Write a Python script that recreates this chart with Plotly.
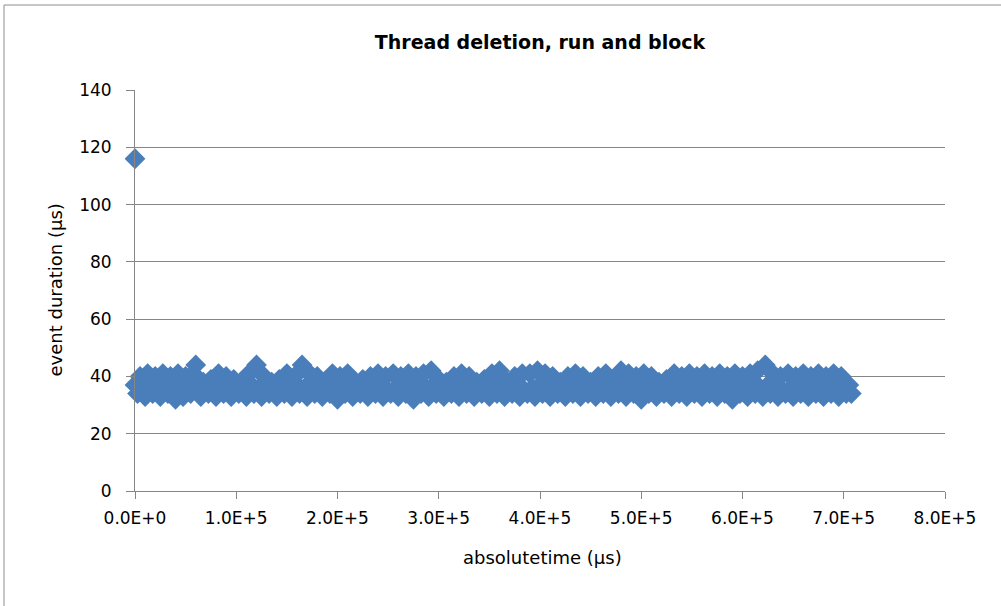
import plotly.graph_objects as go

# outlier event at the very start of the trace
outlier_time = [0]
outlier_duration = [116]

# absolute time of each event (us)
event_time = [
    0, 2500, 5000, 7500, 10000, 12500, 15000, 17500, 20000, 22500,
    25000, 27500, 30000, 32500, 35000, 37500, 40000, 42500, 45000, 47500,
    50000, 52500, 55000, 57500, 60000, 62500, 65000, 67500, 70000, 72500,
    75000, 77500, 80000, 82500, 85000, 87500, 90000, 92500, 95000, 97500,
    100000, 102500, 105000, 107500, 110000, 112500, 115000, 117500, 120000, 122500,
    125000, 127500, 130000, 132500, 135000, 137500, 140000, 142500, 145000, 147500,
    150000, 152500, 155000, 157500, 160000, 162500, 165000, 167500, 170000, 172500,
    175000, 177500, 180000, 182500, 185000, 187500, 190000, 192500, 195000, 197500,
    200000, 202500, 205000, 207500, 210000, 212500, 215000, 217500, 220000, 222500,
    225000, 227500, 230000, 232500, 235000, 237500, 240000, 242500, 245000, 247500,
    250000, 252500, 255000, 257500, 260000, 262500, 265000, 267500, 270000, 272500,
    275000, 277500, 280000, 282500, 285000, 287500, 290000, 292500, 295000, 297500,
    300000, 302500, 305000, 307500, 310000, 312500, 315000, 317500, 320000, 322500,
    325000, 327500, 330000, 332500, 335000, 337500, 340000, 342500, 345000, 347500,
    350000, 352500, 355000, 357500, 360000, 362500, 365000, 367500, 370000, 372500,
    375000, 377500, 380000, 382500, 385000, 387500, 390000, 392500, 395000, 397500,
    400000, 402500, 405000, 407500, 410000, 412500, 415000, 417500, 420000, 422500,
    425000, 427500, 430000, 432500, 435000, 437500, 440000, 442500, 445000, 447500,
    450000, 452500, 455000, 457500, 460000, 462500, 465000, 467500, 470000, 472500,
    475000, 477500, 480000, 482500, 485000, 487500, 490000, 492500, 495000, 497500,
    500000, 502500, 505000, 507500, 510000, 512500, 515000, 517500, 520000, 522500,
    525000, 527500, 530000, 532500, 535000, 537500, 540000, 542500, 545000, 547500,
    550000, 552500, 555000, 557500, 560000, 562500, 565000, 567500, 570000, 572500,
    575000, 577500, 580000, 582500, 585000, 587500, 590000, 592500, 595000, 597500,
    600000, 602500, 605000, 607500, 610000, 612500, 615000, 617500, 620000, 622500,
    625000, 627500, 630000, 632500, 635000, 637500, 640000, 642500, 645000, 647500,
    650000, 652500, 655000, 657500, 660000, 662500, 665000, 667500, 670000, 672500,
    675000, 677500, 680000, 682500, 685000, 687500, 690000, 692500, 695000, 697500,
    700000, 702500, 705000, 707500,
]

# event duration (us)
event_duration = [
    37, 34, 40, 36, 33, 41, 37, 34, 40, 36, 33, 41,
    37, 34, 40, 35, 32, 41, 37, 33, 40, 36, 34, 41,
    44, 36, 33, 38, 37, 34, 39, 36, 33, 41, 35, 34,
    40, 36, 33, 39, 37, 34, 38, 36, 33, 41, 37, 34,
    44, 36, 33, 40, 35, 34, 38, 36, 33, 39, 37, 34,
    41, 36, 33, 40, 37, 34, 44, 36, 33, 41, 37, 34,
    40, 36, 33, 38, 37, 34, 41, 35, 32, 40, 37, 34,
    41, 36, 33, 38, 37, 34, 39, 36, 33, 40, 37, 34,
    41, 36, 33, 40, 35, 34, 41, 36, 33, 40, 37, 34,
    41, 36, 32, 40, 37, 34, 41, 36, 33, 42, 37, 34,
    39, 36, 33, 38, 37, 34, 40, 35, 33, 41, 37, 34,
    40, 36, 33, 38, 37, 34, 39, 36, 33, 41, 37, 34,
    42, 36, 33, 38, 37, 34, 40, 36, 33, 41, 35, 34,
    41, 36, 33, 42, 37, 34, 41, 36, 33, 40, 37, 34,
    38, 36, 33, 40, 37, 34, 41, 35, 33, 40, 37, 34,
    38, 36, 33, 40, 37, 34, 41, 36, 33, 38, 37, 34,
    42, 36, 33, 41, 37, 34, 40, 36, 32, 41, 35, 34,
    40, 36, 33, 38, 37, 34, 39, 36, 33, 41, 37, 34,
    40, 36, 33, 41, 37, 34, 40, 35, 33, 41, 37, 34,
    40, 36, 33, 41, 37, 34, 40, 36, 32, 41, 37, 34,
    40, 36, 33, 41, 37, 34, 42, 36, 33, 44, 37, 34,
    41, 36, 33, 40, 35, 34, 41, 36, 33, 40, 37, 34,
    41, 36, 33, 40, 37, 34, 41, 35, 33, 40, 37, 34,
    41, 36, 33, 40, 37, 34, 37, 34,
]

x_tickvals = [0, 100000, 200000, 300000, 400000, 500000, 600000, 700000, 800000]
x_ticktext = ["0.0E+0", "1.0E+5", "2.0E+5", "3.0E+5", "4.0E+5",
              "5.0E+5", "6.0E+5", "7.0E+5", "8.0E+5"]

FONT = "DejaVu Sans"
GRID = "#868686"

fig = go.Figure(go.Scatter(
    x=outlier_time + event_time,
    y=outlier_duration + event_duration,
    mode="markers",
    marker=dict(symbol="diamond", size=16, color="#4a7ebb", line=dict(width=0)),
    cliponaxis=False,
    showlegend=False,
))

fig.update_layout(
    width=1001, height=606,
    margin=dict(l=135, r=56, t=90, b=115),
    paper_bgcolor="white", plot_bgcolor="white",
    font=dict(family=FONT, size=17, color="black"),
    title=dict(text="<b>Thread deletion, run and block</b>",
               x=0.5, xref="paper", y=1 - 42 / 606, yanchor="middle",
               font=dict(family=FONT, size=19, color="black")),
    xaxis=dict(range=[0, 800000], tickvals=x_tickvals, ticktext=x_ticktext,
               showgrid=False, zeroline=False, showline=True, linecolor=GRID,
               linewidth=1, ticks="outside", ticklen=7, tickcolor=GRID,
               ticklabelstandoff=5, tickfont=dict(size=17)),
    yaxis=dict(range=[0, 140], dtick=20, showgrid=True, gridcolor=GRID,
               gridwidth=1, zeroline=False, showline=True, linecolor=GRID,
               linewidth=1, ticks="outside", ticklen=8, tickcolor=GRID,
               ticklabelstandoff=11, tickfont=dict(size=17)),
    annotations=[
        dict(text="absolutetime (µs)", xref="paper", yref="paper",
             x=(542 - 135) / 810, y=(491 - 557) / 401,
             xanchor="center", yanchor="middle",
             showarrow=False, font=dict(size=18)),
        dict(text="event duration (µs)", xref="paper", yref="paper",
             x=(55 - 135) / 810, y=0.5, xanchor="center", yanchor="middle",
             textangle=-90, showarrow=False, font=dict(size=18)),
    ],
    shapes=[
        dict(type="rect", xref="paper", yref="paper",
             x0=(4 - 135) / 810, x1=1.5, y0=-1.0, y1=(491 - 5) / 401,
             line=dict(color="#8c8c8c", width=1), fillcolor="rgba(0,0,0,0)",
             layer="below"),
    ],
)

# the page's default body margin would shift the chart by 8px
fig.write_html("out.html", config={"displayModeBar": False},
               post_script="document.body.style.margin='0';")
